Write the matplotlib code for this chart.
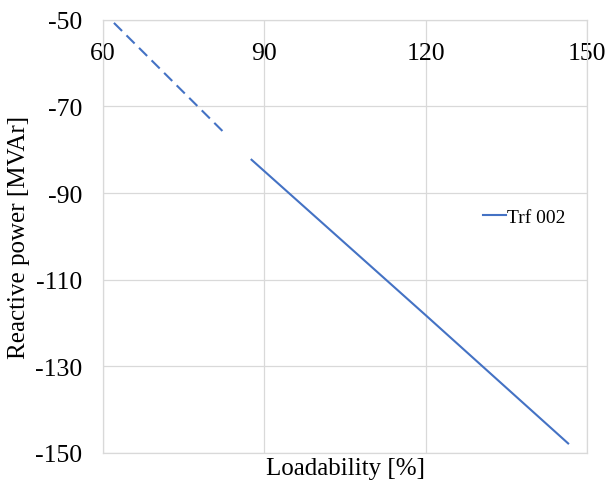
import matplotlib
matplotlib.use("Agg")
import matplotlib.pyplot as plt

# Data
dashed_x = [62.0, 82.3]
dashed_y = [-50.7, -75.8]
solid_x = [87.6, 120.0, 146.5]
solid_y = [-82.3, -118.2, -147.8]
series_label = "Trf 002"
x_ticks = [60, 90, 120, 150]
y_ticks = [-50, -70, -90, -110, -130, -150]
x_title = "Loadability [%]"
y_title = "Reactive power [MVAr]"

plt.rcParams['font.family'] = ['Liberation Serif', 'DejaVu Serif']
plt.rcParams['axes.unicode_minus'] = False

fig = plt.figure(figsize=(6.07, 4.85), dpi=100)
ax = fig.add_axes([0.170, 0.064, 0.797, 0.893])

blue = '#4472C4'
ax.plot(dashed_x, dashed_y, color=blue, lw=1.5, linestyle=(0, (5.5, 3)))
ax.plot(solid_x, solid_y, color=blue, lw=1.5, label=series_label)

ax.set_xlim(60, 150)
ax.set_ylim(-150, -50)
ax.set_xticks(x_ticks)
ax.set_yticks(y_ticks)

ax.grid(True, color='#d9d9d9', lw=0.9)
ax.set_axisbelow(True)
for s in ax.spines.values():
    s.set_color('#d9d9d9')
    s.set_linewidth(0.9)

ax.tick_params(axis='x', top=True, labeltop=True, bottom=False, labelbottom=False,
               length=0, pad=-32, labelsize=18.5)
ax.tick_params(axis='y', length=0, pad=15, labelsize=18.5)

ax.set_xlabel(x_title, fontsize=18, labelpad=3)
ax.xaxis.set_label_position('bottom')
ax.set_ylabel(y_title, fontsize=18, labelpad=4)

ax.legend(loc='center left', bbox_to_anchor=(0.785, 0.545), frameon=False,
          fontsize=14, handlelength=1.2, handletextpad=0.05, borderpad=0,
          borderaxespad=0)

fig.savefig("out.png", dpi=100)
